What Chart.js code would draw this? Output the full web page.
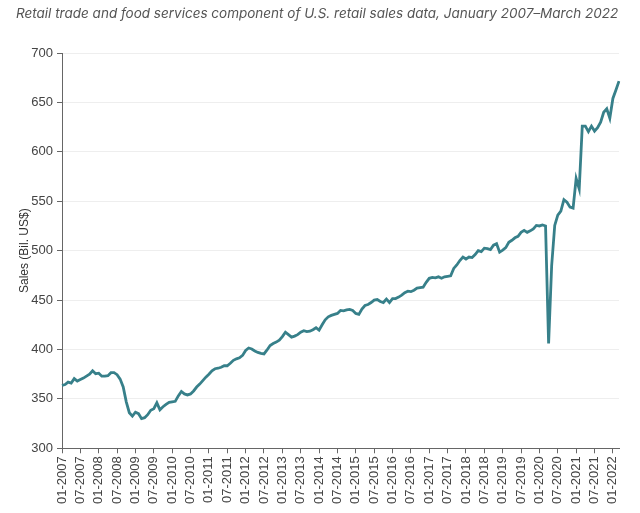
<!DOCTYPE html>
<html>
<head>
<meta charset="utf-8">
<script src="https://cdn.jsdelivr.net/npm/chart.js@4"></script>
<style>
  body { margin: 0; background: #fff; }
  #wrap { position: relative; width: 640px; height: 513px; }
  #chart { position: absolute; left: 0; top: 0; }
  #title { position: absolute; left: 16px; top: 5px; font: italic 13.5px Inter, sans-serif; color: #555; white-space: nowrap; }
</style>
</head>
<body>
<div id="wrap">
  <canvas id="chart" width="640" height="513"></canvas>
  <div id="title">Retail trade and food services component of U.S. retail sales data, January 2007–March 2022</div>
</div>
<script>
// Monthly labels, January 2007 to March 2022
const startYear = 2007;
const monthCount = 183;
const months = [];
for (let i = 0; i < monthCount; i++) {
    const m = (i % 12) + 1;
    months.push((m < 10 ? '0' + m : '' + m) + '-' + (startYear + Math.floor(i / 12)));
}

// Sales, billions of US$
const sales = [
    363.5, 364.5, 367, 366, 370.5, 368, 369.5, 371, 373, 375, 378.5, 375.5,      // 2007
    376, 373, 373, 373.5, 376.5, 376.5, 374.5, 370, 362, 347, 336, 332.5,        // 2008
    336.5, 335, 330, 331, 334, 338.5, 340, 346, 339, 342, 344.5, 346.5,          // 2009
    347, 347.5, 353, 357.5, 355, 354, 355, 358, 362, 365, 368.5, 372,            // 2010
    375, 378.5, 380.5, 381, 382, 383.5, 383.5, 386, 389, 390.5, 391.5, 394,      // 2011
    399, 401.5, 400.5, 398.5, 397, 396, 395.5, 399.5, 404, 406, 407.5, 409.5,    // 2012
    413, 417.5, 415, 412.5, 413.5, 415, 417.5, 419, 418, 418.5, 420, 422,        // 2013
    419.5, 425, 430, 433, 434.5, 435.5, 436.5, 439.5, 439, 440, 440.5, 439.5,    // 2014
    436.5, 435.5, 441, 444.5, 445.5, 447.5, 450, 450.5, 448.5, 447.5, 451, 447.5, // 2015
    451.5, 451.5, 453, 455, 457.5, 459, 458.5, 460, 462, 462.5, 463, 468,        // 2016
    472, 473, 472.5, 473.5, 472, 473.5, 474, 474.5, 482, 485.5, 490, 493.5,      // 2017
    491.5, 493.5, 493, 496, 500, 499, 502.5, 502, 501, 505.5, 507, 498.5,        // 2018
    500.5, 503, 508.5, 510.5, 513, 514.5, 518.5, 520.5, 518.5, 520, 522, 525.5,  // 2019
    525, 526, 525, 406, 485, 525.5, 536, 540, 551.5, 549, 544, 543,              // 2020
    573, 562.5, 626, 626, 620.5, 626, 621, 624.5, 630, 640, 643.5, 634,          // 2021
    654, 662.5, 671.5                                                            // 2022
];

// Only every 6th month gets a label
const labelEvery = 6;

const tickFont = { family: "'Liberation Sans', Arial, sans-serif", size: 13 };

const ctx = document.getElementById('chart').getContext('2d');

new Chart(ctx, {
    type: 'line',
    data: {
        labels: months,
        datasets: [{
            label: 'Sales',
            data: sales,
            borderColor: '#37808a',
            borderWidth: 2.8,
            pointRadius: 0,
            tension: 0,
            fill: false
        }]
    },
    options: {
        responsive: false,
        animation: false,
        layout: {
            padding: { top: 53, left: 17, right: 21, bottom: 6 }
        },
        plugins: {
            legend: { display: false },
            tooltip: { enabled: false }
        },
        scales: {
            x: {
                ticks: {
                    autoSkip: false,
                    minRotation: 90,
                    maxRotation: 90,
                    color: '#444',
                    font: tickFont,
                    padding: 3,
                    callback: function (value, index) {
                        return index % labelEvery === 0 ? months[index] : '';
                    }
                },
                grid: {
                    drawOnChartArea: false,
                    tickLength: 5,
                    tickColor: c => c.index % labelEvery === 0 ? '#666' : 'rgba(0,0,0,0)'
                },
                border: { color: '#666' }
            },
            y: {
                min: 300,
                max: 700,
                // fixed width so the axis line sits where the reference has it
                afterFit: function (scale) {
                    scale.width = 45;
                },
                ticks: {
                    stepSize: 50,
                    color: '#444',
                    font: tickFont,
                    padding: 4
                },
                grid: {
                    color: '#eeeeee',
                    tickColor: '#666',
                    tickLength: 5
                },
                border: { color: '#666' },
                title: {
                    display: true,
                    text: 'Sales (Bil. US$)',
                    color: '#333',
                    font: { family: "'Liberation Sans', Arial, sans-serif", size: 12 },
                    padding: { top: 0, bottom: 0 }
                }
            }
        }
    }
});
</script>
</body>
</html>
